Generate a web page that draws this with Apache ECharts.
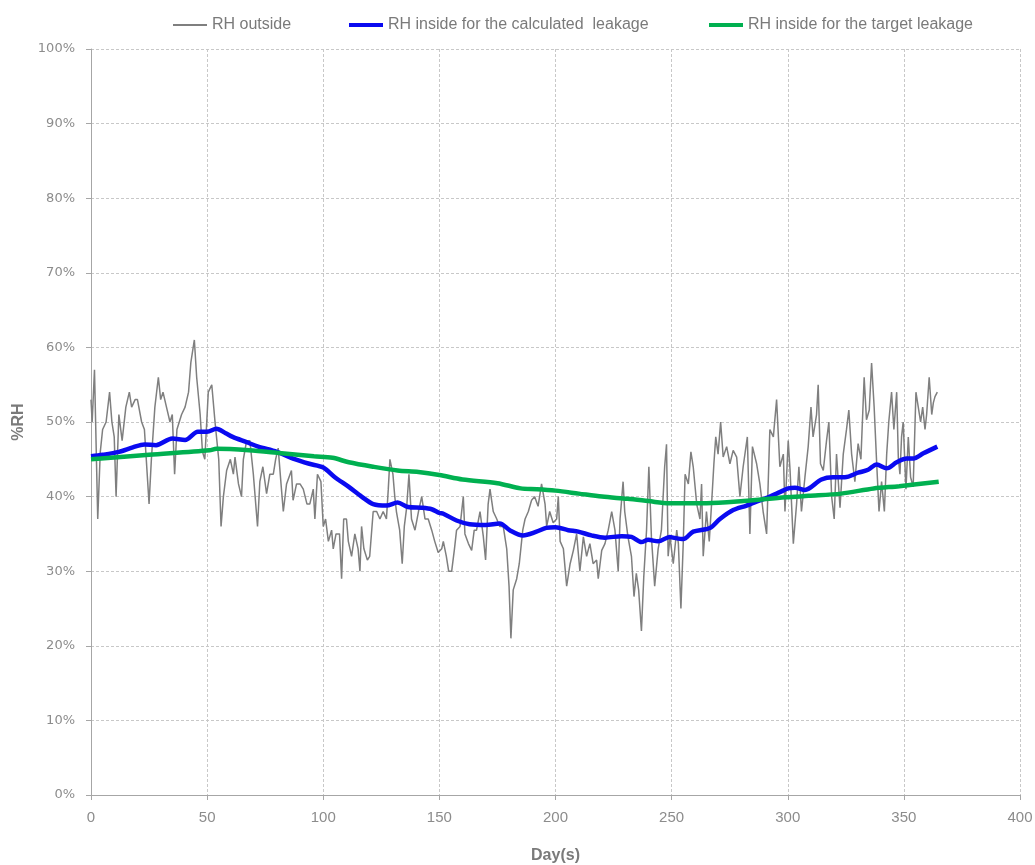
<!DOCTYPE html>
<html>
<head>
<meta charset="utf-8">
<script src="https://cdn.jsdelivr.net/npm/echarts@6/dist/echarts.min.js"></script>
<style>
  html, body { margin: 0; padding: 0; background: #ffffff; }
  #chart { width: 1035px; height: 865px; }
</style>
</head>
<body>
<div id="chart"></div>
<script>
// Series names
const seriesNames = ['RH outside', 'RH inside for the calculated  leakage', 'RH inside for the target leakage'];

// Outside relative humidity: [day, %RH]
const rhOutside = [
  [0,53],[0.5,50],[1.5,57],[2.9,37],[4,46],[5,49],[6.5,50],[8,54],[9,50],[10,48],[10.8,40],[12,51],
  [13.4,47.5],[15,52],[16.5,54],[17.5,52],[19,53],[20,53],[21.8,50],[23,49],[25,39],[26,45],[27.5,52],
  [29,56],[30,53],[31,54],[32.5,52],[34,50],[35,51],[36,43],[37,49],[39,51],[40.5,52],[42,54],[43,58],
  [44.5,61],[45.5,56],[47,51],[48,46],[49,45],[50.5,54],[52,55],[53.4,50],[55,45],[56,36],[57,40],
  [58.4,43.5],[60,45],[61.3,43],[62,45.3],[63.5,41.7],[64.8,40],[65.6,45],[67,47.5],[68.4,47.5],
  [69.9,43],[71.7,36],[72.7,42],[74,44],[75.6,40.4],[77,43],[78.5,43],[79.5,45],[80.6,46.5],[82,41],
  [82.8,38],[84.2,41.7],[86.3,43.5],[87,39.5],[88.5,41.7],[90,41.7],[91.4,41],[93,39],[94.2,39],
  [95.7,41],[96.4,37],[97.5,43],[99,42],[100,36],[101,37],[102.2,34],[103.6,35.5],[104.3,33],[105.5,35],
  [107,35],[107.9,29],[108.8,37],[110,37],[110.8,34],[112.2,32],[113.6,35],[115,33],[115.8,30],[116.5,36],
  [117.5,33],[119,31.5],[120,32],[121.5,38],[123,38],[124.4,37],[125.8,38],[127.2,37],[128,41],[128.7,45],
  [130,43],[130.8,40],[131.5,38],[132.9,35.5],[134,31],[134.9,36],[135.9,38.5],[136.9,43],[138,37],
  [139.5,35.5],[141,38],[142.4,40],[143.8,37],[145.2,37],[146.7,35.5],[148,34],[149.5,32.5],[151,33],
  [151.7,34],[153,32],[154,30],[155.3,30],[156.5,33],[157.4,35.5],[158.9,36],[160.3,40],[161,35],
  [162.5,33.7],[163.9,32.8],[165,35.5],[166,35.5],[167.5,38],[168.9,34.7],[169.9,31.5],[171,39],[171.8,41],
  [173.2,38],[174.7,37],[176,36],[177.5,36],[179,33],[180,28],[180.8,21],[181.8,27.5],[183.3,29],[184.4,31],
  [185.9,35.5],[186.9,37],[188.3,38],[189.7,39.5],[191,40],[192.5,38.7],[194,41.7],[195.5,39],[196.2,36],
  [197.5,38],[199,36.5],[200.5,37],[201.2,40],[202,34],[203.4,33],[204.8,28],[206.3,31],[207.7,32.8],
  [209.1,35],[209.8,35],[210.5,30],[212,34.6],[213.4,32],[214.8,33.7],[216.2,31],[217.7,31.5],[218.4,29],
  [219.9,32.8],[221.3,33.7],[222.7,35.5],[224.2,38],[225.6,35.5],[227,30],[227.8,37],[229.1,42],[229.8,38],
  [231.2,34.6],[232.7,32],[233.8,26.6],[234.8,29.7],[235.8,27.5],[237,22],[238,29.2],[239.2,35.5],[240.2,44],
  [241.3,34.6],[242.7,28],[244.2,33],[245.6,35.5],[247,44],[247.8,47],[248.5,32],[249.3,34.6],[250.7,31],
  [252.2,35.5],[252.9,33.7],[254,25],[255,33.7],[255.8,43],[257.2,41.7],[258.3,46],[259.3,44],[260.8,39],
  [262.2,37],[262.9,41.7],[263.6,32],[265,38],[266.2,34],[267.2,39],[268.2,44.4],[269,48],[270,45.7],
  [271.1,50],[272.2,45.3],[273.7,46.7],[275.1,44.4],[276.5,46.2],[278,45.3],[279.4,40],[280.8,44],[282.6,48],
  [283.7,35],[284.8,46.7],[286.6,44.4],[288,41.7],[289.4,38],[290.9,35],[292.3,49],[293.8,48],[295.2,53],
  [296.6,44],[298.1,45.7],[298.8,38],[300.2,47.5],[301,43.5],[302.4,33.7],[303.8,39],[304.8,44],[305.9,38],
  [307.4,42.6],[308.8,46.7],[310,52],[310.9,48],[312.4,51],[313.1,55],[314.1,44.4],[315.3,43.5],[316.7,47.5],
  [317.7,50],[318.9,40],[320,37],[321,45.7],[322.5,38.5],[323.9,45.7],[325.3,49],[326.3,51.6],[327.5,45.7],
  [328.9,42],[330.3,47.1],[331.5,45],[332.9,56],[333.9,50.3],[335.1,51.6],[336.1,57.9],[337.2,52],[338.3,44.4],
  [339.3,38],[340.4,42],[341.6,38],[342.6,45.7],[343.5,50],[344.7,54],[345.7,49],[346.9,54],[347.6,45.3],
  [348.3,43],[349,48],[349.7,50],[350.9,41],[351.9,48],[352.9,42.6],[354,41.3],[355.2,54],[356.2,52],
  [357.2,50],[358.1,52],[359.1,49],[359.8,51],[360.9,56],[362,51],[362.7,52.6],[363.4,53.4],[364.4,54]
];

// Inside RH with the calculated leakage: [day, %RH]
const rhInsideCalculated = [
  [0,45.4],[5,45.6],[12,46],[18,46.6],[23,47],[28,46.9],[35,47.8],[40.5,47.6],[46,48.7],[50,48.7],
  [54,49.1],[58,48.5],[61,48],[67,47.3],[72,46.7],[80,46],[87,45.1],[94,44.4],[100,43.9],[105,42.6],
  [111,41.3],[116.5,40],[121.5,39],[127.2,38.8],[132,39.2],[136.5,38.6],[142.4,38.5],[146.7,38.3],
  [150,37.8],[151.7,37.7],[157.4,36.8],[163,36.3],[170,36.2],[176,36.4],[180.3,35.5],[186,34.8],
  [191.8,35.3],[196,35.8],[200,35.9],[205.5,35.5],[209.8,35.3],[215.5,34.8],[221.3,34.5],[228.5,34.7],
  [232.7,34.6],[237,33.9],[239.9,34.2],[244.2,34],[249.2,34.6],[250.7,34.5],[255,34.3],[259.3,35.3],
  [266.5,35.8],[270.8,37],[276.5,38.2],[282.3,38.8],[288,39.5],[292.3,40],[296.6,40.6],[300.2,41.1],
  [303.1,41.2],[307.4,40.9],[314.5,42.3],[319.5,42.6],[324.6,42.6],[330.3,43.2],[334.6,43.6],[338.3,44.3],
  [342.6,43.8],[346.9,44.6],[351.2,45.1],[354,45.1],[358.4,45.8],[364.4,46.7]
];

// Inside RH with the target leakage: [day, %RH]
const rhInsideTarget = [
  [0,45],[25,45.6],[51,46.2],[54,46.4],[68,46.2],[82,45.8],[96,45.4],[104,45.2],[111,44.6],[121.5,44],
  [132,43.5],[141,43.3],[150,42.9],[160,42.3],[175,41.8],[185,41.1],[192,41],[200,40.8],[210,40.4],
  [220,40],[231,39.7],[240,39.4],[249,39.1],[265,39.1],[281,39.4],[299,39.9],[309,40.1],[323,40.4],
  [337,41.1],[348,41.4],[365,42]
];

const colors = ['#7f7f7f', '#0a0af0', '#00b050'];
const uiFont = "'Liberation Sans', 'Noto Sans', sans-serif";
const tickFont = "'DejaVu Sans', 'Liberation Sans', sans-serif";
const labelColor = '#8c8c8c';
const gridColor = '#c8c8c8';

const chart = echarts.init(document.getElementById('chart'), null, { renderer: 'canvas' });

function legendFor(name, left, color, height) {
  return {
    data: [{ name: name, icon: 'rect', itemStyle: { color: color } }],
    left: left,
    top: 12,
    itemWidth: 34,
    itemHeight: height,
    itemGap: 0,
    textStyle: { fontFamily: uiFont, fontSize: 16, color: '#7a7a7a' },
    selectedMode: false
  };
}

chart.setOption({
  animation: false,
  color: colors,
  legend: [
    legendFor(seriesNames[0], 168, colors[0], 2),
    legendFor(seriesNames[1], 344, colors[1], 4),
    legendFor(seriesNames[2], 704, colors[2], 4)
  ],
  grid: { left: 91, right: 15, top: 49, bottom: 70, containLabel: false, outerBoundsMode: 'none' },
  xAxis: {
    type: 'value',
    min: 0, max: 400, interval: 50,
    name: 'Day(s)',
    nameLocation: 'middle',
    nameGap: 53,
    nameTextStyle: { fontFamily: uiFont, fontSize: 16, fontWeight: 'bold', color: '#7a7a7a' },
    axisLine: { lineStyle: { color: '#a6a6a6', width: 1 } },
    axisTick: { show: true, inside: false, length: 5, lineStyle: { color: '#a6a6a6' } },
    axisLabel: { fontFamily: uiFont, fontSize: 15, color: labelColor, margin: 15 },
    splitLine: { show: true, lineStyle: { color: gridColor, type: [3, 2], width: 1 } }
  },
  yAxis: {
    type: 'value',
    min: 0, max: 100, interval: 10,
    name: '%RH',
    nameLocation: 'middle',
    nameGap: 64,
    nameRotate: 90,
    nameTextStyle: { fontFamily: uiFont, fontSize: 16, fontWeight: 'bold', color: '#7a7a7a' },
    axisLine: { show: true, lineStyle: { color: '#a6a6a6', width: 1 } },
    axisTick: { show: true, inside: false, length: 5, lineStyle: { color: '#a6a6a6' } },
    axisLabel: { fontFamily: tickFont, fontSize: 13, color: labelColor, margin: 16, formatter: '{value}%' },
    splitLine: { show: true, lineStyle: { color: gridColor, type: [3, 2], width: 1 } }
  },
  series: [
    {
      name: seriesNames[0], type: 'line', data: rhOutside,
      showSymbol: false, symbol: 'none',
      lineStyle: { color: colors[0], width: 1.5 }
    },
    {
      name: seriesNames[1], type: 'line', data: rhInsideCalculated,
      showSymbol: false, symbol: 'none', smooth: 0.3,
      lineStyle: { color: colors[1], width: 4.5 }
    },
    {
      name: seriesNames[2], type: 'line', data: rhInsideTarget,
      showSymbol: false, symbol: 'none', smooth: 0.3,
      lineStyle: { color: colors[2], width: 4.5 }
    }
  ]
});
</script>
</body>
</html>
